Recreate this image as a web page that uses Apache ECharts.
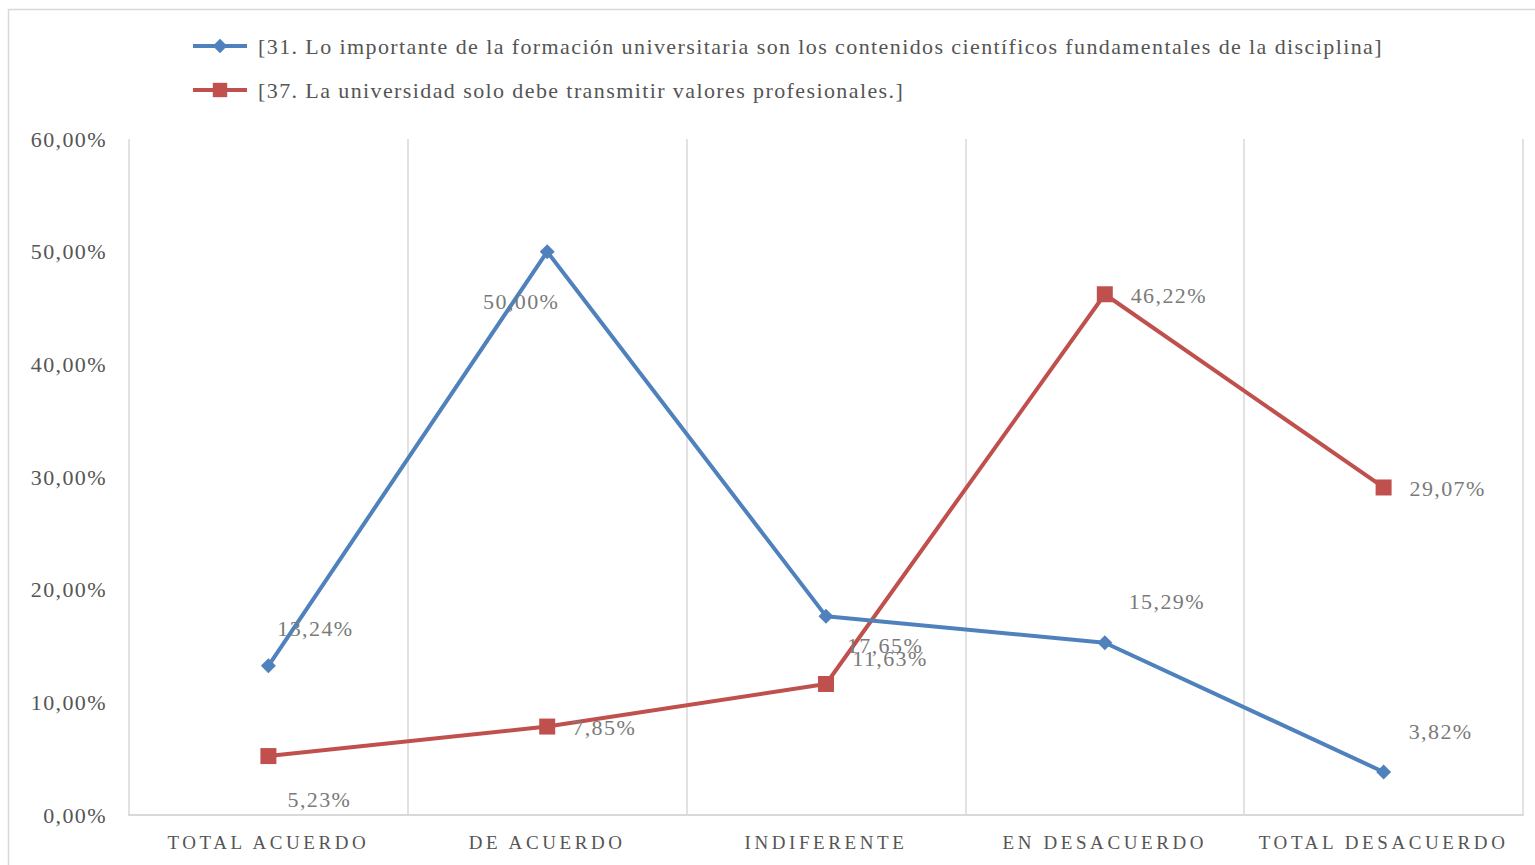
<!DOCTYPE html>
<html>
<head>
<meta charset="utf-8">
<script src="https://cdn.jsdelivr.net/npm/echarts@6/dist/echarts.min.js"></script>
<style>
  html, body { margin: 0; padding: 0; background: #fff; overflow: hidden; }
  #chart { width: 1535px; height: 865px; }
  /* espaciado para imitar la tipografía más ancha del original */
  #chart text { letter-spacing: 1.4px; }
  /* letras espaciadas del eje X */
  #chart text[style*="19px"] { letter-spacing: 3.6px; }
</style>
</head>
<body>
<div id="chart"></div>
<script>
// categorías
const categories = ['TOTAL ACUERDO', 'DE ACUERDO', 'INDIFERENTE', 'EN DESACUERDO', 'TOTAL DESACUERDO']
// series (%)
const serie31 = [13.24, 50.00, 17.65, 15.29, 3.82]
const serie37 = [5.23, 7.85, 11.63, 46.22, 29.07]
const nombre31 = '[31. Lo importante de la formación universitaria son los contenidos científicos fundamentales de la disciplina]'
const nombre37 = '[37. La universidad solo debe transmitir valores profesionales.]'
// ticks del eje Y
const yTicks = [0, 10, 20, 30, 40, 50, 60]

// desplazamiento de las etiquetas respecto al marcador
const offsets31 = [[47, -37], [-26, 50], [59, 29], [62, -41], [57, -40]]
const offsets37 = [[51, 43], [57, 1], [64, -25], [64, 1], [64, 1]]

const FONT = 'Liberation Serif'
const fmt = (v) => v.toFixed(2).replace('.', ',') + '%'

function buildData(values, offsets) {
  return values.map((v, i) => ({
    value: v,
    label: { offset: offsets[i] },
  }))
}

const chart = echarts.init(document.getElementById('chart'), null, { renderer: 'svg' })

const labelStyle = {
  show: true,
  position: 'inside',
  align: 'center',
  verticalAlign: 'middle',
  fontFamily: FONT,
  fontSize: 22,
  color: '#7a7a7a',
  formatter: (p) => fmt(p.value),
}

chart.setOption({
  animation: false,
  backgroundColor: '#fff',
  graphic: [
    {
      type: 'rect',
      shape: { x: 8.5, y: 9.5, width: 1540, height: 870 },
      style: { fill: 'none', stroke: '#d9d9d9', lineWidth: 1.5 },
      silent: true,
    },
  ],
  legend: {
    orient: 'vertical',
    left: 186,
    top: 30,
    itemWidth: 54,
    itemHeight: 18,
    itemGap: 22,
    lineStyle: { width: 4 },
    textStyle: { fontFamily: FONT, fontSize: 22, color: '#555555', padding: [0, 0, 0, 6] },
    data: [nombre31, nombre37],
  },
  grid: { left: 129, right: 12, top: 139, bottom: 50, containLabel: false },
  xAxis: {
    type: 'category',
    data: categories,
    boundaryGap: true,
    axisTick: { show: false },
    axisLine: { lineStyle: { color: '#d9d9d9', width: 2 } },
    splitLine: { show: true, lineStyle: { color: '#d9d9d9', width: 1.5 } },
    axisLabel: { fontFamily: FONT, fontSize: 19, color: '#555555', margin: 18 },
  },
  yAxis: {
    type: 'value',
    min: yTicks[0],
    max: yTicks[yTicks.length - 1],
    interval: 10,
    axisLine: { show: false },
    axisTick: { show: false },
    splitLine: { show: false },
    axisLabel: { fontFamily: FONT, fontSize: 22, color: '#555555', margin: 22, formatter: fmt },
  },
  series: [
    {
      name: nombre31,
      type: 'line',
      data: buildData(serie31, offsets31),
      symbol: 'diamond',
      symbolSize: 15,
      lineStyle: { color: '#4f81bd', width: 4 },
      itemStyle: { color: '#4f81bd' },
      label: labelStyle,
      z: 3,
    },
    {
      name: nombre37,
      type: 'line',
      data: buildData(serie37, offsets37),
      symbol: 'rect',
      symbolSize: 16,
      lineStyle: { color: '#c0504d', width: 4 },
      itemStyle: { color: '#c0504d' },
      label: labelStyle,
      z: 2,
    },
  ],
})
</script>
</body>
</html>
